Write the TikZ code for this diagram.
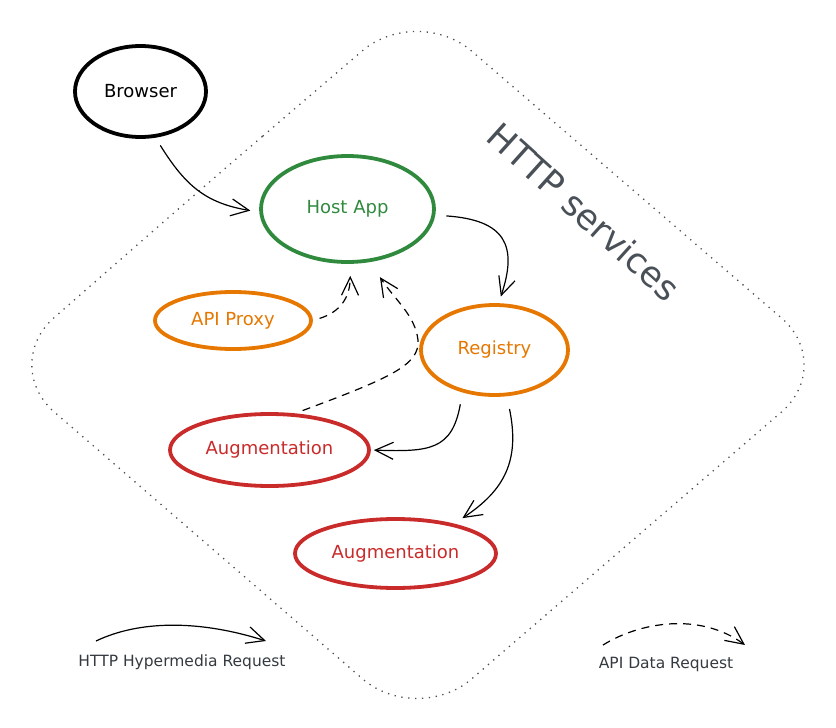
\documentclass[tikz,border=0pt]{standalone}
\usepackage{fontspec}
\setmainfont{DejaVu Sans}
\usetikzlibrary{arrows.meta,shapes.geometric}
\definecolor{cgreen}{HTML}{2F8A3E}
\definecolor{corange}{HTML}{E67700}
\definecolor{cred}{HTML}{C92A2A}
\definecolor{cgray}{HTML}{495057}
\definecolor{cdark}{HTML}{343A40}
\begin{document}
\begin{tikzpicture}[x=1pt,y=-1pt,
  blob/.style={ellipse, draw, line width=3.8pt, inner sep=0pt, font=\fontsize{18}{21}\selectfont},
  flow/.style={line width=1.2pt, -{Straight Barb[length=18pt,width=17pt,line width=1.2pt]}},
  apiflow/.style={flow, dash pattern=on 8pt off 6pt},
  legend/.style={font=\fontsize{15.5}{18}\selectfont, text=cdark}
]
\useasboundingbox (0,0) rectangle (836,728);
% HTTP services boundary
\draw[cgray, line width=1.3pt, dash pattern=on 1.3pt off 5.6pt, rounded corners=72pt]
  (208,183) -- (417,4) -- (836,365) -- (417,726) -- (0,365) -- cycle;
\node[rotate=-42, text=cgray, font=\fontsize{35}{40}\selectfont] (svc) at (584,212) {HTTP services};

\node[blob, minimum width=131pt, minimum height=91pt] (browser) at (140.5,91.5) {Browser};
\node[blob, draw=cgreen, text=cgreen, minimum width=173pt, minimum height=106pt] (host) at (347.5,209) {Host App};
\node[blob, draw=corange, text=corange, minimum width=156pt, minimum height=57pt] (api) at (233,320.5) {API Proxy};
\node[blob, draw=corange, text=corange, minimum width=147pt, minimum height=90pt] (registry) at (494.5,350) {Registry};
\node[blob, draw=cred, text=cred, minimum width=199pt, minimum height=72pt] (aug1) at (269.5,450) {Augmentation};
\node[blob, draw=cred, text=cred, minimum width=201pt, minimum height=69pt] (aug2) at (395.5,553.5) {Augmentation};

\draw[flow, shorten <=9pt, shorten >=9pt] (browser.-72) .. controls (185,185) and (205,203) .. (host.182);
\draw[flow, shorten <=11pt, shorten >=7pt] (host.-4) .. controls (505,220) and (518,245) .. (registry.85);
\draw[apiflow, shorten <=7pt, shorten >=12pt] (api.east) .. controls (340,312) and (350,298) .. (host.-87);
\coordinate (bend) at (418,340);
\draw[apiflow, shorten <=8pt, shorten >=18pt] (aug1.55) .. controls (390,378) and (420,365) .. (bend) .. controls (415,315) and (395,300) .. (host.-67);
\draw[flow, shorten <=12pt, shorten >=3pt] (registry.-127) .. controls (452,450) and (430,452) .. (aug1.east);
\draw[flow, shorten <=13pt, shorten >=10pt] (registry.-75) .. controls (520,460) and (505,490) .. (aug2.27);

% legend
\coordinate (l1s) at (96,641);
\coordinate (l1e) at (266,641);
\coordinate (l2s) at (603,645);
\coordinate (l2e) at (745,645);
\draw[flow] (l1s) .. controls (140,620) and (200,620) .. (l1e);
\draw[apiflow] (l2s) .. controls (640,622) and (700,612) .. (l2e);
\node[legend] (lab1) at (182,662) {HTTP Hypermedia Request};
\node[legend] (lab2) at (666,664) {API Data Request};
\end{tikzpicture}
\end{document}
